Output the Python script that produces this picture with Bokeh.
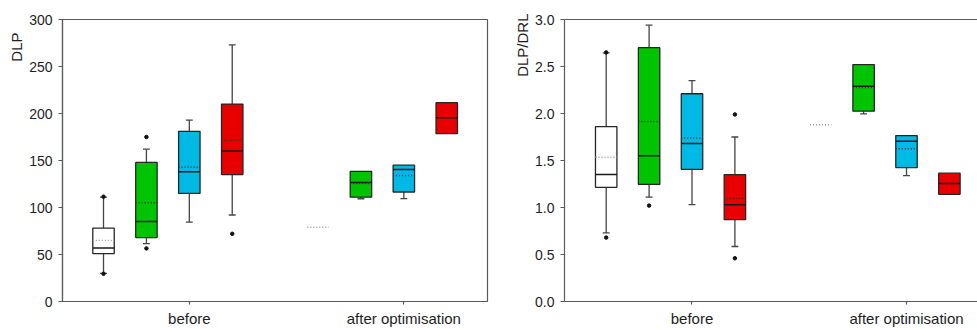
import math
from bokeh.plotting import figure
from bokeh.models import ColumnDataSource, FixedTicker, Range1d, Title, LinearAxis
from bokeh.layouts import row
from bokeh.embed import file_html
from bokeh.resources import INLINE

NaN = float("nan")

# ---- data ----
groups = ["before", "after optimisation"]
group_slot = [3, 8]
series = ["white", "green", "blue", "red"]
slots = [1, 2, 3, 4, 6, 7, 8, 9]           # box slots: before (1-4), after (6-9)
fills = ["#ffffff", "#00c400", "#00b9e4", "#e80000"] * 2

# DLP panel
dlp_q1 = [51, 68, 115, 135, NaN, 111, 116.5, 178.5]
dlp_med = [57, 85, 138, 160, NaN, 126.5, 140.5, 195.5]
dlp_q3 = [78, 148, 181, 210, NaN, 138.5, 145, 211.5]
dlp_lo = [30, 61.5, 84.5, 92, NaN, 109.3, 109.5, NaN]
dlp_hi = [111, 162, 193, 273, NaN, NaN, NaN, NaN]
dlp_mean = [65, 105, 143, 171.5, 79, 125.5, 134, NaN]
dlp_out_slot = [1, 1, 2, 2, 4]
dlp_out_val = [111.5, 29.5, 175, 56.5, 72]

# DLP/DRL panel
drl_q1 = [1.215, 1.245, 1.405, 0.87, NaN, 2.025, 1.425, 1.14]
drl_med = [1.35, 1.55, 1.68, 1.03, NaN, 2.29, 1.705, 1.255]
drl_q3 = [1.86, 2.70, 2.21, 1.35, NaN, 2.52, 1.765, 1.365]
drl_lo = [0.73, 1.11, 1.03, 0.585, NaN, 1.995, 1.34, NaN]
drl_hi = [2.645, 2.94, 2.35, 1.75, NaN, NaN, NaN, NaN]
drl_mean = [1.535, 1.915, 1.74, 1.095, 1.88, 2.275, 1.625, NaN]
drl_out_slot = [1, 1, 2, 4, 4]
drl_out_val = [2.65, 0.68, 1.02, 1.99, 0.46]

FONT = "Liberation Sans"
AX = "#5a5a5a"
HALF = 0.25
CAP = 0.08


def panel(q1, med, q3, lo, hi, mean, oslot, oval, ymax, yticks, ylabel,
          width, bl, br, x_start, x_end, title_offset, closed):
    p = figure(width=width, height=329, output_backend="svg", toolbar_location=None,
               x_range=Range1d(x_start, x_end), y_range=Range1d(0, ymax),
               min_border_left=bl, min_border_right=br, min_border_top=19,
               min_border_bottom=27)
    p.grid.visible = False
    p.background_fill_color = "white"
    p.border_fill_color = "white"

    xs = slots
    src = ColumnDataSource(dict(
        x=xs, l=[x - HALF for x in xs], r=[x + HALF for x in xs],
        cl=[x - CAP for x in xs], cr=[x + CAP for x in xs],
        q1=q1, med=med, q3=q3, lo=lo, hi=hi, mean=mean, fill=fills,
        mcol=["#9a9a9a" if f == "#ffffff" else "#303030" for f in fills],
    ))
    # whiskers
    p.segment(x0="x", x1="x", y0="q3", y1="hi", source=src, line_color="#444444", line_width=1.3)
    p.segment(x0="x", x1="x", y0="q1", y1="lo", source=src, line_color="#444444", line_width=1.3)
    p.segment(x0="cl", x1="cr", y0="hi", y1="hi", source=src, line_color="#444444", line_width=1.3)
    p.segment(x0="cl", x1="cr", y0="lo", y1="lo", source=src, line_color="#444444", line_width=1.3)
    # boxes
    p.quad(left="l", right="r", bottom="q1", top="q3", source=src,
           fill_color="fill", line_color="#262626", line_width=1.3)
    # medians
    p.segment(x0="l", x1="r", y0="med", y1="med", source=src, line_color="#1a1a1a", line_width=1.5)
    # means
    p.segment(x0="l", x1="r", y0="mean", y1="mean", source=src, line_color="mcol",
              line_width=1.4, line_dash="1 2")
    # outliers
    p.scatter(x=oslot, y=oval, size=3.5, color="#111111")

    # axes
    xa = p.below[0]
    ya = p.left[0]
    ya.ticker = FixedTicker(ticks=yticks)
    xa.ticker = FixedTicker(ticks=group_slot)
    xa.major_label_overrides = {s: g for s, g in zip(group_slot, groups)}
    for ax in (xa, ya):
        ax.axis_line_color = AX
        ax.axis_line_width = 1.2
        ax.major_tick_line_color = AX
        ax.major_tick_line_width = 1.2
        ax.major_tick_in = 0
        ax.major_tick_out = 4
        ax.minor_tick_line_color = None
        ax.major_label_text_font = FONT
        ax.major_label_text_color = "#1e1e1e"
        ax.axis_label_standoff = 0
    ya.major_label_text_font_size = "14px"
    ya.major_label_standoff = 6
    xa.major_label_text_font_size = "15px"
    xa.major_label_standoff = 5
    xa.major_tick_out = 3
    if ymax < 10:
        ya.major_label_overrides = {t: f"{t:.1f}" for t in yticks}

    if closed:
        p.outline_line_color = AX
        p.outline_line_width = 1.2
    else:
        p.outline_line_color = None
        top = LinearAxis(ticker=FixedTicker(ticks=[]), axis_line_color=AX,
                         axis_line_width=1.2, major_label_text_font_size="0px",
                         major_tick_line_color=None, minor_tick_line_color=None,
                         major_tick_out=0, major_label_standoff=0, axis_label_standoff=0)
        p.add_layout(top, "above")

    p.add_layout(Title(text=ylabel, align="right", text_font=FONT, text_font_size="15px",
                       text_font_style="normal", text_color="#1e1e1e",
                       offset=title_offset, standoff=3), "left")
    return p


left = panel(dlp_q1, dlp_med, dlp_q3, dlp_lo, dlp_hi, dlp_mean, dlp_out_slot, dlp_out_val,
             300, [0, 50, 100, 150, 200, 250, 300], "DLP",
             502, 62, 15, 0.044, 9.95, 13, True)
right = panel(drl_q1, drl_med, drl_q3, drl_lo, drl_hi, drl_mean, drl_out_slot, drl_out_val,
              3.0, [0.0, 0.5, 1.0, 1.5, 2.0, 2.5, 3.0], "DLP/DRL",
              475, 62, 0, 0.028, 9.655, -6, False)

layout = row(left, right, spacing=0)
open("out.html", "w").write(file_html(layout, INLINE))
